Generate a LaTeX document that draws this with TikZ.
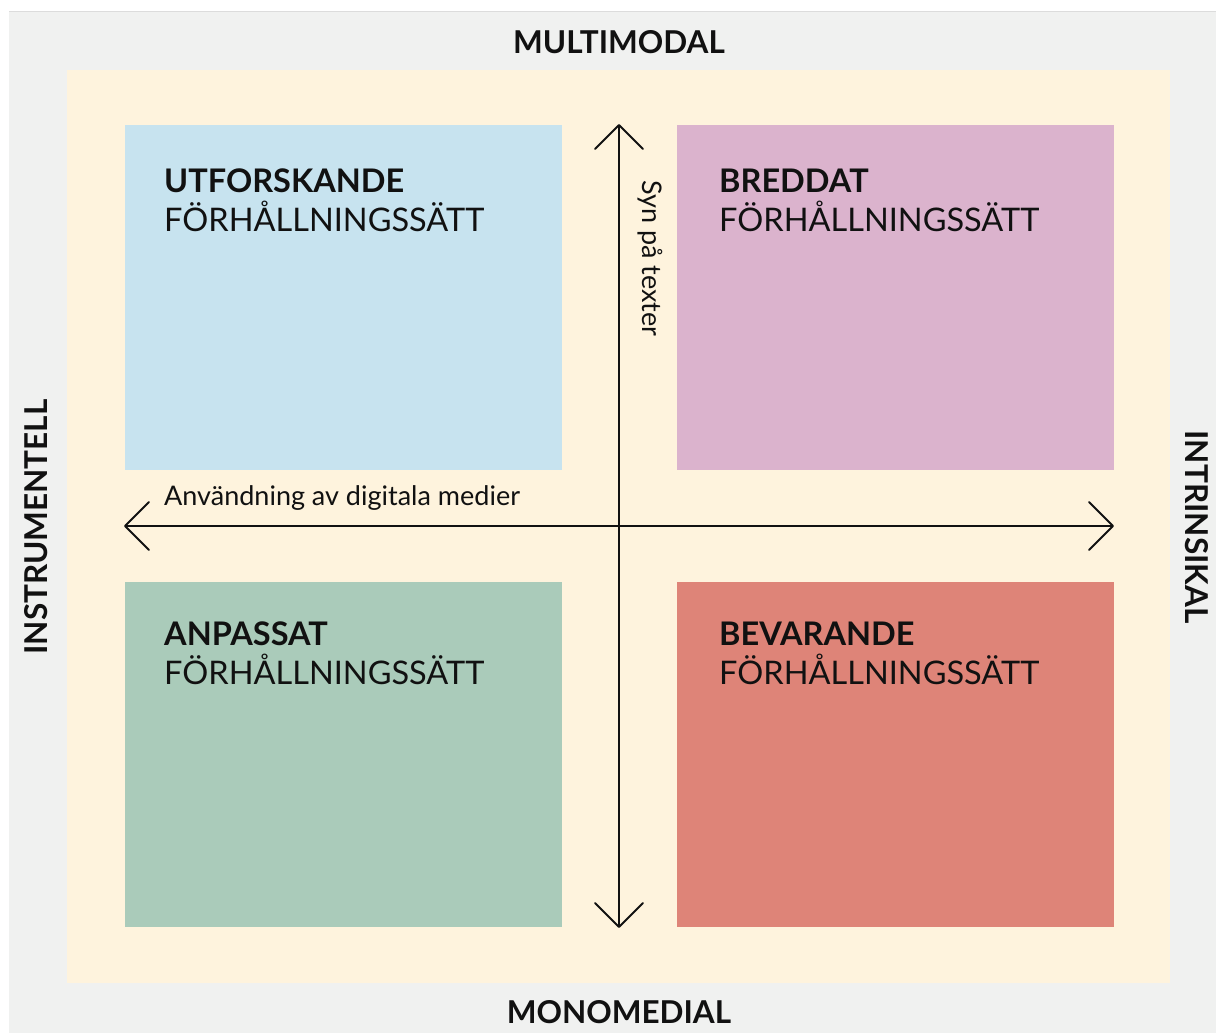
\documentclass[tikz,border=0pt]{standalone}
\usepackage{fontspec}
\setmainfont{Lato}
\definecolor{bggray}{HTML}{F0F1F0}
\definecolor{edgegray}{HTML}{DCDCDC}
\definecolor{cream}{HTML}{FEF3DD}
\definecolor{qblue}{HTML}{C7E3EF}
\definecolor{qpink}{HTML}{DBB3CD}
\definecolor{qgreen}{HTML}{AACBBA}
\definecolor{qred}{HTML}{DE8478}
\definecolor{ink}{HTML}{111111}
\begin{document}
\begin{tikzpicture}[x=1pt,y=-1pt,
  quad/.style={draw=none,minimum width=437pt,minimum height=345pt,anchor=north west,inner sep=0pt},
  ttl/.style={anchor=base west,inner sep=0pt,font=\fontsize{32.5}{34}\selectfont\bfseries,text=ink},
  sub/.style={anchor=base west,inner sep=0pt,font=\fontsize{32.5}{34}\selectfont,text=ink},
  axislbl/.style={inner sep=0pt,font=\fontsize{31.5}{34}\selectfont\bfseries,text=ink},
  axtxt/.style={inner sep=0pt,font=\fontsize{27}{30}\selectfont,text=ink},
  axisline/.style={draw=ink,line width=2pt},
  chev/.style={draw=ink,line width=2pt,line cap=round,line join=round}]
\useasboundingbox (0,0) rectangle (1216,1033);
\fill[white] (0,0) rectangle (1216,1033);
\fill[bggray] (9,12) rectangle (1216,1033);
\draw[edgegray,line width=1pt] (9,12) -- (1216,12);
\fill[cream] (67,70) rectangle (1170,983);
\node[quad,fill=qblue] (ul) at (125,125) {};
\node[quad,fill=qpink] (ur) at (677,125) {};
\node[quad,fill=qgreen] (ll) at (125,582) {};
\node[quad,fill=qred] (lr) at (677,582) {};
\node[ttl] (ult) at (164,192) {UTFORSKANDE};
\node[sub] (uls) at (164,231) {FÖRHÅLLNINGSSÄTT};
\node[ttl] (urt) at (719,192) {BREDDAT};
\node[sub] (urs) at (719,231) {FÖRHÅLLNINGSSÄTT};
\node[ttl] (llt) at (164,645) {ANPASSAT};
\node[sub] (lls) at (164,684) {FÖRHÅLLNINGSSÄTT};
\node[ttl] (lrt) at (719,645) {BEVARANDE};
\node[sub] (lrs) at (719,684) {FÖRHÅLLNINGSSÄTT};
\coordinate (vtop) at (619,125);
\coordinate (vbot) at (619,927);
\coordinate (hl) at (125,526);
\coordinate (hr) at (1113,526);
\draw[axisline] (vtop) -- (vbot);
\draw[axisline] (hl) -- (hr);
\draw[chev] ([shift={(-24,24)}]vtop) -- (vtop) -- ([shift={(24,24)}]vtop);
\draw[chev] ([shift={(-24,-24)}]vbot) -- (vbot) -- ([shift={(24,-24)}]vbot);
\draw[chev] ([shift={(24,-24)}]hl) -- (hl) -- ([shift={(24,24)}]hl);
\draw[chev] ([shift={(-24,-24)}]hr) -- (hr) -- ([shift={(-24,24)}]hr);
\node[axtxt,anchor=base west] (htxt) at (164,505) {Användning av digitala medier};
\node[axtxt,rotate=-90,anchor=base west] (vtxt) at (642,180) {Syn på texter};
\node[axislbl] (top) at (619,42) {MULTIMODAL};
\node[axislbl] (bot) at (619,1012) {MONOMEDIAL};
\node[axislbl,rotate=90] (left) at (36,527) {INSTRUMENTELL};
\node[axislbl,rotate=-90] (right) at (1197,527) {INTRINSIKAL};
\end{tikzpicture}
\end{document}
